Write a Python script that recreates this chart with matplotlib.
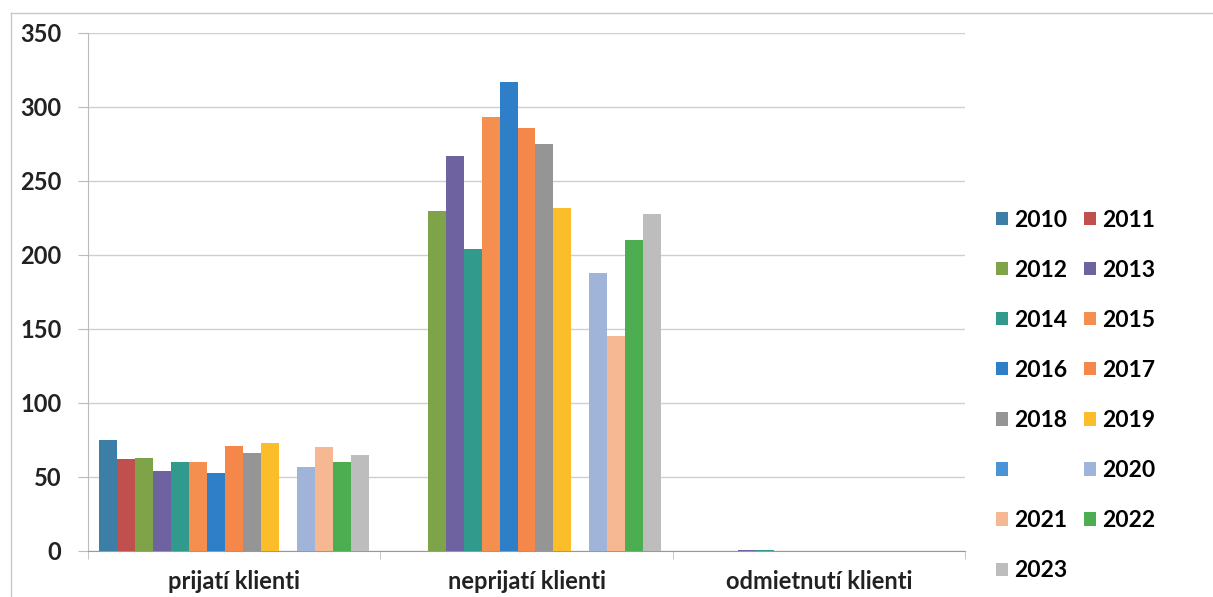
import matplotlib
matplotlib.use("Agg")
import matplotlib.pyplot as plt
from matplotlib.patches import Patch
from matplotlib.lines import Line2D
import numpy as np

categories = ["prijatí klienti", "neprijatí klienti", "odmietnutí klienti"]
series_names = ["2010", "2011", "2012", "2013", "2014", "2015", "2016", "2017",
                "2018", "2019", " ", "2020", "2021", "2022", "2023"]
prijati    = [75, 62, 63, 54, 60, 60, 53, 71, 66, 73, 0, 57, 70, 60, 65]
neprijati  = [0, 0, 230, 267, 204, 293, 317, 286, 275, 232, 0, 188, 145, 210, 228]
odmietnuti = [0, 0, 0, 1, 1, 0, 0, 0, 0, 0, 0, 0, 0, 0, 0]
colors = ["#3d7ea6", "#c0504d", "#7fa348", "#6e62a0", "#329a8c", "#f58f4f",
          "#2f7fc8", "#f5874a", "#959595", "#fbbd2a", "#4a93d6", "#9fb4d8",
          "#f6b892", "#4cae50", "#bdbdbd"]
yticks = [0, 50, 100, 150, 200, 250, 300, 350]

plt.rcParams['font.family'] = ['Lato', 'DejaVu Sans']

fig = plt.figure(figsize=(12.13, 5.97), dpi=100)
ax = fig.add_axes([88/1213, 46/597, (965-88)/1213, (551-33)/597])

data = np.array([prijati, neprijati, odmietnuti])
n = len(series_names)
w = 0.0615
x = np.arange(len(categories))
handles = []
for i in range(n):
    ax.bar(x + (i - (n - 1) / 2) * w, data[:, i], width=w, color=colors[i],
           linewidth=0, zorder=3)
    handles.append(Patch(facecolor=colors[i], edgecolor='none'))

ax.set_xlim(-0.5, 2.5)
ax.set_ylim(0, 350)
ax.set_yticks(yticks)
ax.set_yticklabels([str(v) for v in yticks], fontsize=17, fontweight='bold',
                   color='#222222')
ax.set_xticks(x)
ax.set_xticklabels(categories, fontsize=17, fontweight='bold', color='#222222')
ax.tick_params(axis='x', length=0, pad=14)
ax.set_xticks([-0.5, 0.5, 1.5, 2.5], minor=True)
ax.tick_params(axis='x', which='minor', length=6, color='#bbbbbb')
ax.tick_params(axis='y', length=7, color='#bbbbbb', pad=12)
ax.grid(axis='y', color='#cfcfcf', linewidth=1, zorder=0)
for s in ['top', 'right']:
    ax.spines[s].set_visible(False)
ax.spines['left'].set_color('#bbbbbb')
ax.spines['bottom'].set_color('#999999')

# legend in row-major order with 2 columns
order = list(range(0, n, 2)) + list(range(1, n, 2))
leg = fig.legend([handles[i] for i in order], [series_names[i] for i in order],
                 ncol=2, loc='upper left', bbox_to_anchor=(975/1213, 1 - 189/597),
                 frameon=False, prop={'family': 'Lato', 'size': 16.5, 'weight': 'bold'},
                 handlelength=0.52, handleheight=0.52, handletextpad=0.3,
                 labelspacing=1.27, columnspacing=0.7)

# outer chart frame
fig.add_artist(Line2D([11/1213, 11/1213], [0, 1 - 13/597], transform=fig.transFigure,
                      color='#c8c8c8', linewidth=1))
fig.add_artist(Line2D([11/1213, 1], [1 - 13/597, 1 - 13/597], transform=fig.transFigure,
                      color='#c8c8c8', linewidth=1))

fig.savefig("out.png", dpi=100)
